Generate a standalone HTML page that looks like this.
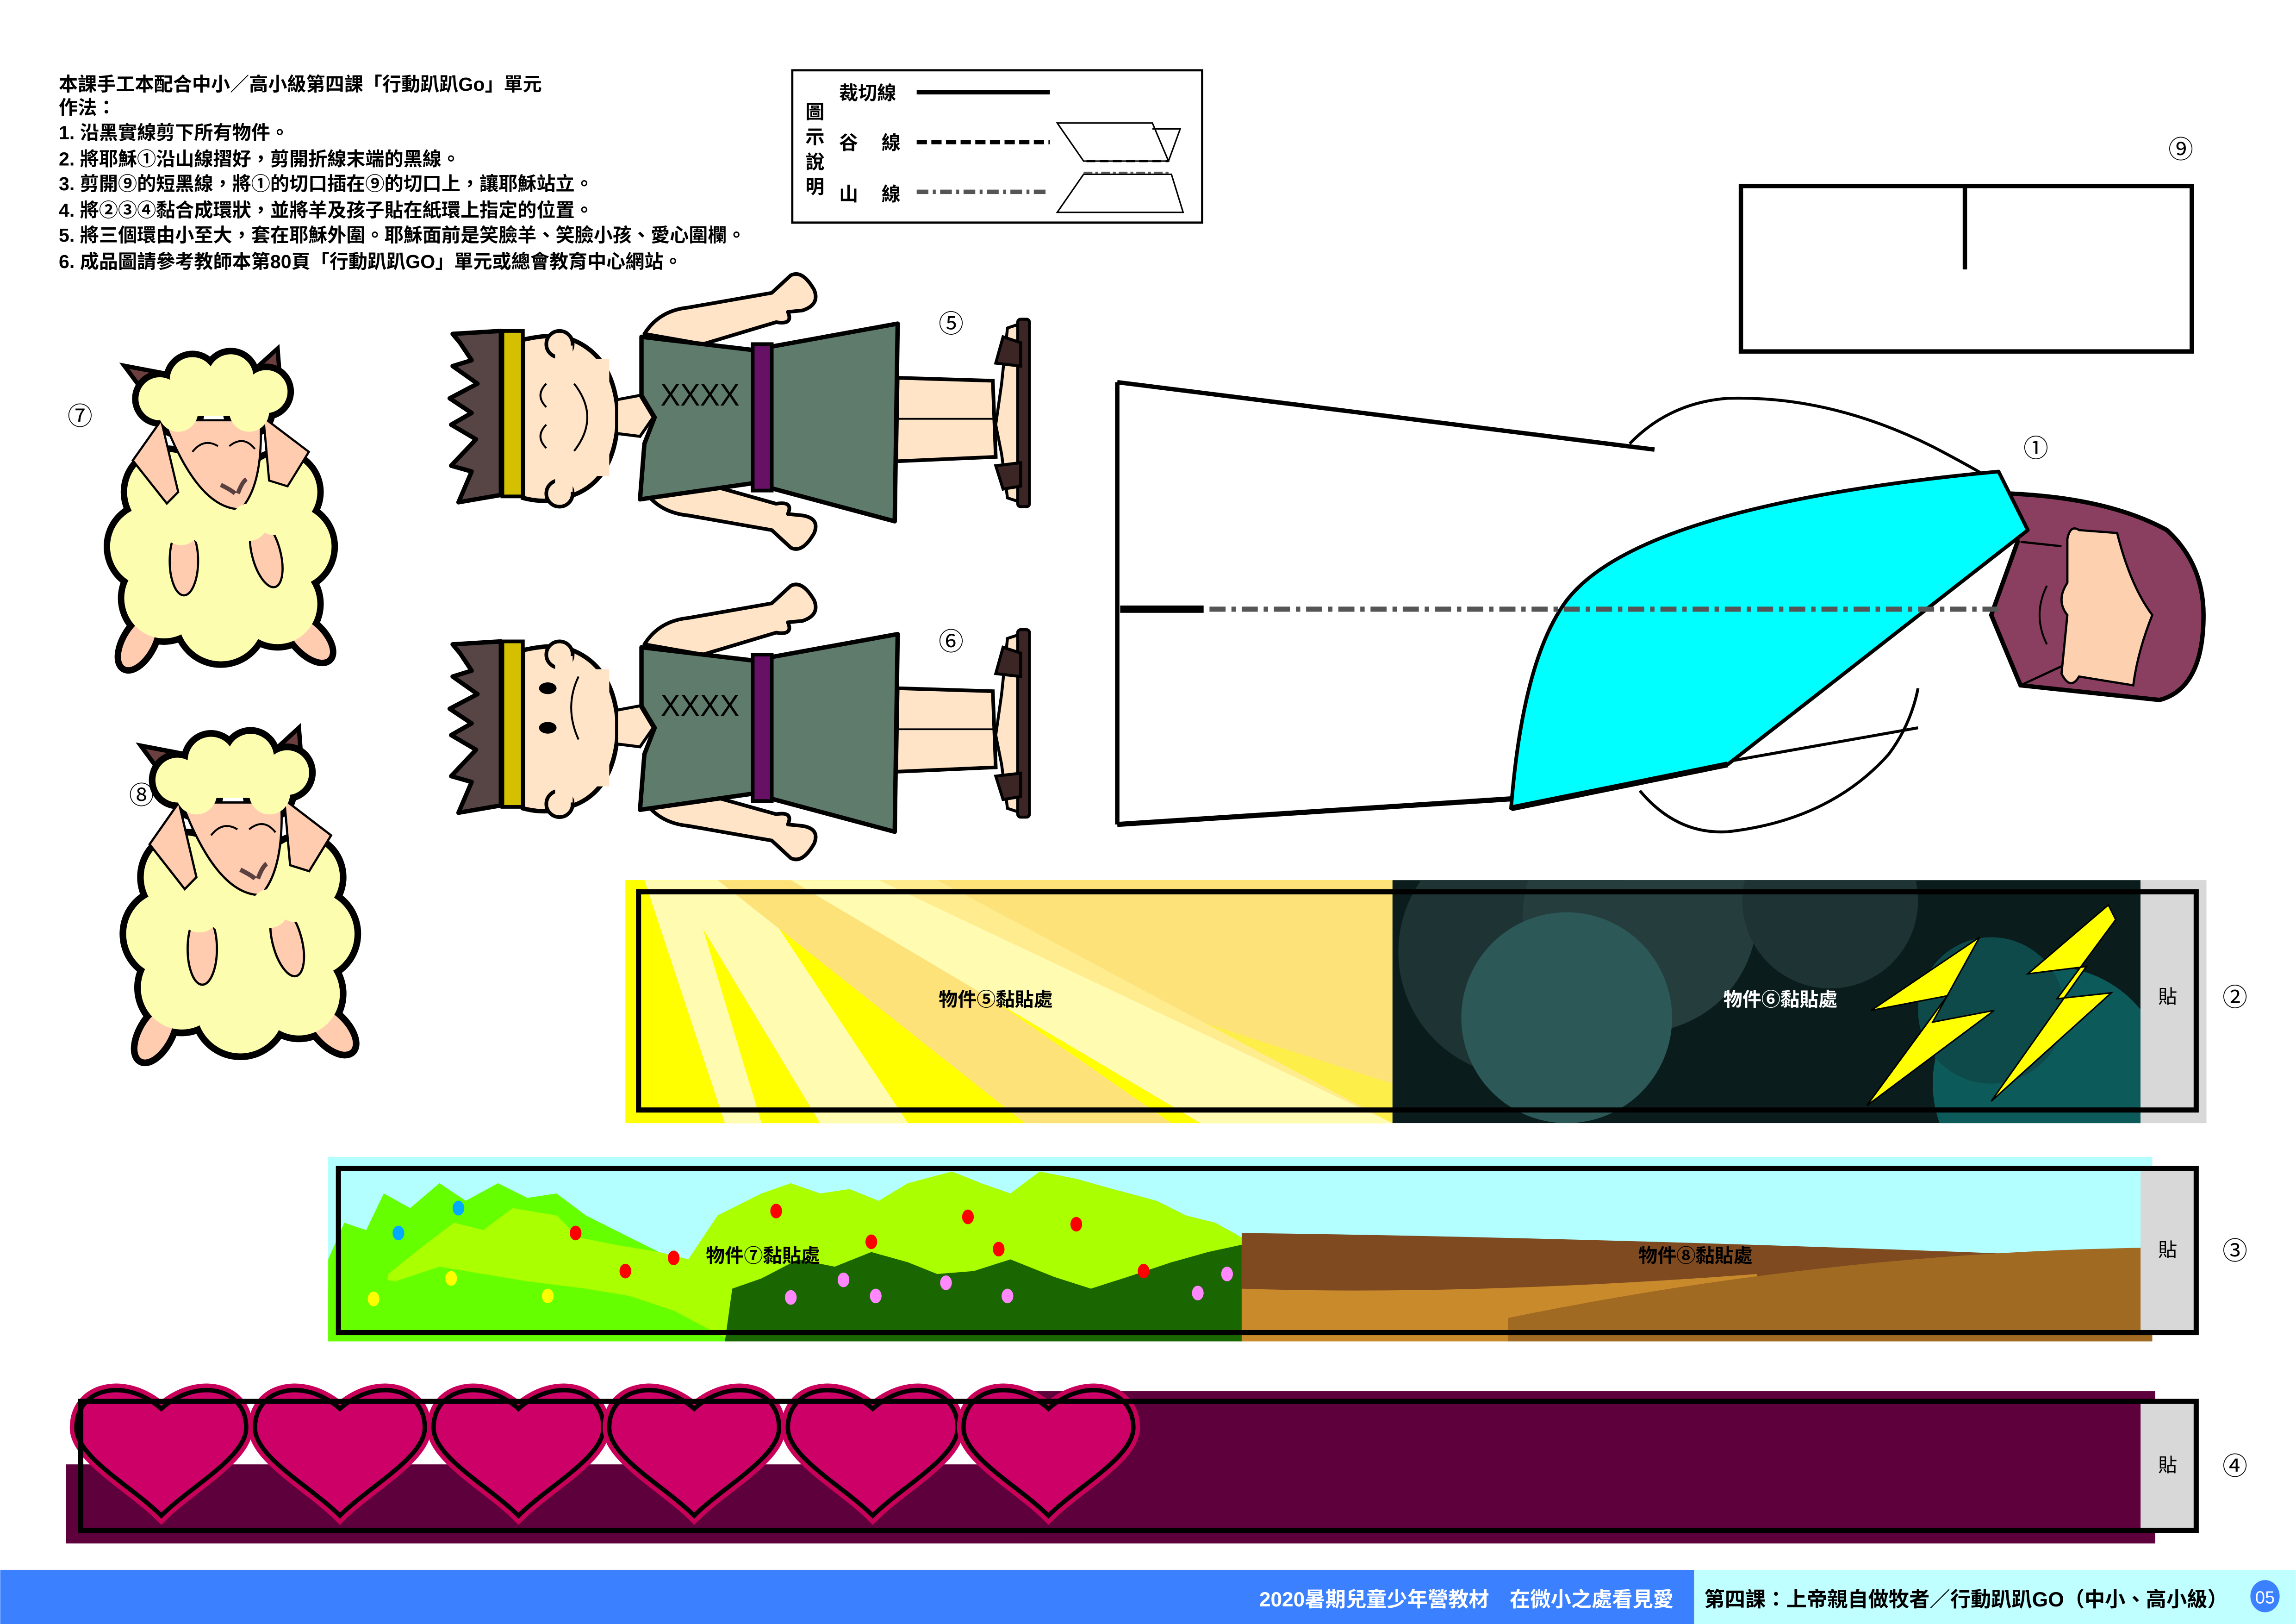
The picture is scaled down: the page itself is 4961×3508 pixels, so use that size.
<!DOCTYPE html>
<html><head><meta charset="utf-8"><style>
html,body{margin:0;padding:0;background:#fff;}
svg{display:block;}
text{font-family:"Liberation Sans","Noto Sans CJK TC",sans-serif;}
</style></head><body>
<svg width="4961" height="3508" viewBox="0 0 1568 1109" xmlns="http://www.w3.org/2000/svg">
<defs>
<clipPath id="c2"><rect x="427" y="601" width="1035" height="166"/></clipPath>
<clipPath id="c3"><rect x="224" y="790" width="1246" height="126"/></clipPath>
<g id="sheep">
  <path d="M22,28 L10,12 L42,18 L45,34 Z" fill="#6b3f3f" stroke="#000" stroke-width="3"/>
  <path d="M98,18 L118,0 L120,26 Z" fill="#6b3f3f" stroke="#000" stroke-width="3"/>
  <g stroke="#000" stroke-width="9" fill="#000">
    <circle cx="40" cy="100" r="28"/><circle cx="28" cy="138" r="28"/><circle cx="38" cy="174" r="28"/>
    <circle cx="78" cy="188" r="30"/><circle cx="118" cy="178" r="28"/><circle cx="128" cy="138" r="28"/>
    <circle cx="120" cy="100" r="26"/><circle cx="80" cy="130" r="45"/>
    <ellipse cx="20" cy="205" rx="9" ry="19" transform="rotate(30 20 205)"/>
    <ellipse cx="140" cy="202" rx="9" ry="19" transform="rotate(-45 140 202)"/>
    <circle cx="35" cy="35" r="15"/><circle cx="58" cy="22" r="16"/><circle cx="85" cy="20" r="16"/><circle cx="110" cy="30" r="15"/>
    <circle cx="48" cy="44" r="14"/><circle cx="98" cy="44" r="14"/>
  </g>
  <ellipse cx="20" cy="205" rx="9" ry="19" transform="rotate(30 20 205)" fill="#ffccb0"/>
  <ellipse cx="140" cy="202" rx="9" ry="19" transform="rotate(-45 140 202)" fill="#ffccb0"/>
  <g fill="#fdfdb0">
    <circle cx="40" cy="100" r="28"/><circle cx="28" cy="138" r="28"/><circle cx="38" cy="174" r="28"/>
    <circle cx="78" cy="188" r="30"/><circle cx="118" cy="178" r="28"/><circle cx="128" cy="138" r="28"/>
    <circle cx="120" cy="100" r="26"/><circle cx="80" cy="130" r="45"/>
  </g>
  <path d="M16,78 L36,50 L48,100 L40,108 Z" fill="#ffccb0" stroke="#000" stroke-width="1.5"/>
  <path d="M108,48 L140,72 L125,96 L112,92 Z" fill="#ffccb0" stroke="#000" stroke-width="1.5"/>
  <path d="M38,50 Q62,112 92,112 Q108,95 106,50 Z" fill="#ffccb0" stroke="#000" stroke-width="1.5"/>
  <g fill="#fdfdb0"><circle cx="35" cy="35" r="15"/><circle cx="58" cy="22" r="16"/><circle cx="85" cy="20" r="16"/><circle cx="110" cy="30" r="15"/><circle cx="48" cy="44" r="14"/><circle cx="98" cy="44" r="14"/><rect x="40" y="25" width="65" height="22"/></g>
  <ellipse cx="52" cy="148" rx="10" ry="24" fill="#ffccb0" stroke="#000" stroke-width="1.5"/>
  <ellipse cx="110" cy="143" rx="10" ry="24" fill="#ffccb0" stroke="#000" stroke-width="1.5" transform="rotate(-15 110 143)"/>
  <g fill="#fdfdb0"><circle cx="50" cy="123" r="14"/><circle cx="68" cy="125" r="12"/><circle cx="98" cy="121" r="13"/><circle cx="115" cy="118" r="12"/></g>
  <path d="M58,72 Q66,62 76,68 M84,68 Q94,60 102,70" stroke="#000" stroke-width="1.3" fill="none"/>
  <path d="M78,95 Q86,99 88,101 M90,101 Q93,93 96,91" stroke="#5a4040" stroke-width="3" fill="none"/>
</g>
<g id="boy">
  <path d="M440,228 Q450,212 470,210 L527,200 L540,188 Q548,184 556,198 Q560,208 548,212 L538,213 Q542,222 530,220 L480,235 Z" fill="#ffe4c8" stroke="#000" stroke-width="2.5" stroke-linejoin="round"/>
  <path d="M440,335 Q450,350 470,352 L527,362 L540,374 Q548,378 556,364 Q560,354 548,352 L538,351 Q542,342 530,344 L480,330 Z" fill="#ffe4c8" stroke="#000" stroke-width="2.5" stroke-linejoin="round"/>
  <path d="M309,228 L342,226 L342,338 L313,343 L322,322 L308,318 L325,300 L308,290 L322,282 L307,272 L326,262 L309,250 L322,246 L314,234 Z" fill="#574545" stroke="#000" stroke-width="3" stroke-linejoin="round"/>
  <path d="M357,232 Q375,228 385,230 Q420,240 422,285 Q420,332 385,340 Q372,344 357,340 Z" fill="#ffe4c8" stroke="#000" stroke-width="3"/>
  <circle cx="382" cy="235" r="9" fill="#ffe4c8" stroke="#000" stroke-width="2.5"/>
  <circle cx="382" cy="337" r="9" fill="#ffe4c8" stroke="#000" stroke-width="2.5"/>
  <rect x="379" y="236" width="12" height="10" fill="#ffe4c8"/><rect x="379" y="326" width="12" height="10" fill="#ffe4c8"/>
  <rect x="343" y="226" width="14" height="113" fill="#d4c000" stroke="#000" stroke-width="2.5"/>
  <path d="M421,273 L437,270 L446,285 L437,298 L421,296 Z" fill="#ffe4c8" stroke="#000" stroke-width="2"/>
  <path d="M438,230 L514,239 L613,221 L611,356 L514,330 L437,341 L440,303 L447,285 L438,270 Z" fill="#5f7b6b" stroke="#000" stroke-width="3" stroke-linejoin="round"/>
  <rect x="514" y="235" width="13" height="100" fill="#661166" stroke="#000" stroke-width="2.5"/>
  <text x="451" y="277" font-size="21" fill="#000" textLength="54" lengthAdjust="spacingAndGlyphs">XXXX</text>
  <path d="M613,258 L678,260 L680,312 L612,315 Z" fill="#ffe4c8" stroke="#000" stroke-width="2.5"/>
  <line x1="612" y1="286" x2="700" y2="286" stroke="#000" stroke-width="1.2"/>
  <path d="M688,224 L700,220 L700,344 L688,340 L684,310 L680,290 L684,262 Z" fill="#ffe4c8" stroke="#000" stroke-width="2"/>
  <rect x="695" y="218" width="8" height="128" rx="2" fill="#3c2525" stroke="#000" stroke-width="2"/>
  <path d="M685,230 L697,234 L697,250 L680,248 Z M680,318 L697,316 L697,332 L685,334 Z" fill="#3c2525" stroke="#000" stroke-width="2"/>
</g>
</defs>

<!-- header text -->
<g font-size="13" fill="#000" font-weight="bold">
<text x="40" y="62">本課手工本配合中小／高小級第四課「行動趴趴Go」單元</text>
<text x="40" y="78">作法：</text>
<text x="40" y="95">1. 沿黑實線剪下所有物件。</text>
<text x="40" y="113">2. 將耶穌①沿山線摺好，剪開折線末端的黑線。</text>
<text x="40" y="130">3. 剪開⑨的短黑線，將①的切口插在⑨的切口上，讓耶穌站立。</text>
<text x="40" y="148">4. 將②③④黏合成環狀，並將羊及孩子貼在紙環上指定的位置。</text>
<text x="40" y="165">5. 將三個環由小至大，套在耶穌外圍。耶穌面前是笑臉羊、笑臉小孩、愛心圍欄。</text>
<text x="40" y="183">6. 成品圖請參考教師本第80頁「行動趴趴GO」單元或總會教育中心網站。</text>
</g>

<!-- legend -->
<rect x="541" y="48" width="280" height="104" fill="none" stroke="#000" stroke-width="1.5"/>
<g font-size="13" fill="#000" font-weight="bold">
<text x="550" y="81">圖</text><text x="550" y="98">示</text><text x="550" y="115">說</text><text x="550" y="132">明</text>
<text x="573" y="68">裁切線</text>
<text x="573" y="102">谷</text><text x="602" y="102">線</text>
<text x="573" y="137">山</text><text x="602" y="137">線</text>
</g>
<line x1="626" y1="63" x2="717" y2="63" stroke="#000" stroke-width="3"/>
<line x1="626" y1="97" x2="717" y2="97" stroke="#000" stroke-width="3" stroke-dasharray="7,3"/>
<line x1="626" y1="131" x2="717" y2="131" stroke="#555" stroke-width="3" stroke-dasharray="8,3,2,3"/>
<path d="M722,84 L787,84 L798,110 L740,110 Z" fill="#fff" stroke="#000" stroke-width="1"/>
<path d="M787,88 L806,88 L798,110" fill="none" stroke="#000" stroke-width="1"/>
<line x1="742" y1="110" x2="798" y2="110" stroke="#000" stroke-width="1.5" stroke-dasharray="6,3"/>
<path d="M740,119 L800,119 L808,145 L722,145 Z" fill="#fff" stroke="#000" stroke-width="1"/>
<line x1="740" y1="118" x2="798" y2="118" stroke="#555" stroke-width="1.5" stroke-dasharray="6,2,2,2"/>

<!-- piece 9 -->
<text x="1481" y="108" font-size="17">⑨</text>
<rect x="1189" y="127" width="308" height="113" fill="none" stroke="#000" stroke-width="3"/>
<line x1="1342" y1="127" x2="1342" y2="184" stroke="#000" stroke-width="3"/>

<!-- Jesus piece 1 -->
<text x="1382" y="312" font-size="17">①</text>
<path d="M1113,303 Q1140,275 1180,272 Q1250,270 1320,305 Q1345,318 1365,330" fill="#fff" stroke="#000" stroke-width="2"/>
<path d="M1120,540 Q1145,570 1180,568 Q1250,560 1290,515 Q1305,495 1310,470" fill="#fff" stroke="#000" stroke-width="2"/>
<path d="M763,261 L1160,310 L1040,545 L763,563 Z" fill="#fff"/>
<line x1="763" y1="261" x2="1130" y2="307" stroke="#000" stroke-width="3"/>
<line x1="763" y1="563" x2="1040" y2="545" stroke="#000" stroke-width="3.5"/>
<line x1="763" y1="261" x2="763" y2="563" stroke="#000" stroke-width="3"/>
<line x1="1180" y1="520" x2="1310" y2="497" stroke="#000" stroke-width="2"/>
<path d="M1372,337 Q1440,340 1480,362 Q1505,385 1505,420 Q1505,470 1475,478 L1380,468 L1360,420 L1378,370 Z" fill="#8b3f60" stroke="#000" stroke-width="3"/>
<path d="M1412,368 Q1414,358 1420,362 L1446,364 Q1455,400 1470,420 Q1460,445 1457,468 L1420,462 Q1414,472 1408,460 L1412,420 Q1404,410 1412,398 Z" fill="#fdd0b0" stroke="#000" stroke-width="1.5"/>
<path d="M1380,468 L1408,455 M1380,370 L1408,373" stroke="#000" stroke-width="1.5"/>
<path d="M1398,400 Q1388,420 1398,440" stroke="#000" stroke-width="1.3" fill="none"/>
<path d="M1032,552 Q1040,450 1070,410 Q1120,345 1365,322 L1385,362 L1180,522 Z" fill="#00ffff" stroke="#000" stroke-width="2.5" stroke-linejoin="round"/>
<path d="M1032,552 L1180,522" stroke="#000" stroke-width="4"/>
<line x1="765" y1="416" x2="822" y2="416" stroke="#000" stroke-width="5"/>
<line x1="826" y1="416" x2="1365" y2="416" stroke="#555" stroke-width="3.5" stroke-dasharray="11,4,3,4"/>

<!-- boys -->
<use href="#boy"/>
<use href="#boy" transform="translate(0,212)"/>
<rect x="360" y="245" width="56" height="80" fill="#ffe4c8"/>
<path d="M373,262 Q365,270 373,278 M373,290 Q365,298 373,306 M392,262 Q410,285 392,308" stroke="#000" stroke-width="1.3" fill="none"/>
<rect x="360" y="457" width="56" height="80" fill="#ffe4c8"/>
<ellipse cx="374" cy="470" rx="6" ry="4" fill="#000"/><ellipse cx="374" cy="497" rx="6" ry="4" fill="#000"/>
<path d="M395,462 Q385,483 395,505" stroke="#000" stroke-width="1.3" fill="none"/>
<text x="641" y="227" font-size="17">⑤</text>
<text x="641" y="444" font-size="17">⑥</text>

<!-- sheep -->
<use href="#sheep" transform="translate(75,238) scale(0.97,0.98)"/>
<use href="#sheep" transform="translate(86,497) scale(1,1.02)"/>
<text x="46" y="290" font-size="17">⑦</text>
<text x="88" y="549" font-size="17">⑧</text>

<!-- strip 2 -->
<rect x="427" y="601" width="524" height="166" fill="#ffff00"/>
<g clip-path="url(#c2)">
  <polygon points="520,601 951,601 951,740" fill="#fde27a"/>
  <polygon points="440,601 470,601 520,767 495,767" fill="#fffbb0"/>
  <polygon points="460,601 510,601 620,767 560,767" fill="#fffbb0"/>
  <polygon points="490,601 560,601 800,767 700,767" fill="#fde27a"/>
  <polygon points="540,601 640,601 951,767 820,767" fill="#fffbb0"/>
  <polygon points="600,601 700,601 951,740 951,767" fill="#fde27a" opacity="0.6"/>
  <rect x="951" y="601" width="511" height="166" fill="#0a1c1c"/>
  <circle cx="1040" cy="650" r="85" fill="#1e3434"/>
  <circle cx="1120" cy="625" r="80" fill="#263d3d"/>
  <circle cx="1070" cy="695" r="72" fill="#2c5858"/>
  <circle cx="1250" cy="615" r="60" fill="#1e3434"/>
  <circle cx="1400" cy="740" r="80" fill="#0d5a5a"/>
  <circle cx="1360" cy="690" r="50" fill="#0f4a4a"/>
</g>
<polygon points="1352,640 1278,690 1330,680 1275,755 1362,690 1320,698" fill="#ffff00" stroke="#000" stroke-width="1"/>
<polygon points="1440,618 1385,665 1425,660 1360,752 1442,678 1405,682 1445,628" fill="#ffff00" stroke="#000" stroke-width="1"/>
<rect x="1462" y="601" width="45" height="166" fill="#d8d8d8"/>
<rect x="436" y="609" width="1064" height="149" fill="none" stroke="#000" stroke-width="3.5"/>
<text x="641" y="687" font-size="13" font-weight="bold">物件⑤黏貼處</text>
<text x="1177" y="687" font-size="13" fill="#fff" font-weight="bold">物件⑥黏貼處</text>
<text x="1474" y="685" font-size="13">貼</text>
<text x="1518" y="687" font-size="17">②</text>

<!-- strip 3 -->
<rect x="224" y="790" width="1246" height="126" fill="#b3ffff"/>
<g clip-path="url(#c3)">
  <path d="M224,916 L224,860 L235,835 L250,840 L262,815 L280,825 L300,808 L318,820 L340,808 L360,818 L380,815 L400,830 L420,840 L440,850 L460,860 L480,870 L500,916 Z" fill="#66ff00"/>
  <path d="M260,916 L265,870 L290,850 L310,835 L330,840 L350,825 L380,830 L395,845 L420,850 L450,855 L470,860 L490,830 L520,815 L540,808 L560,815 L580,812 L600,820 L620,808 L650,800 L670,808 L690,815 L710,800 L735,805 L760,812 L790,820 L810,830 L830,835 L848,845 L848,916 Z" fill="#aaff00"/>
  <path d="M224,916 L224,880 L240,870 L270,875 L300,865 L330,870 L360,875 L400,880 L430,885 L460,895 L500,916 Z" fill="#66ff00"/>
  <path d="M495,916 L500,880 L520,873 L545,860 L570,865 L595,855 L620,862 L640,870 L665,868 L690,860 L720,872 L745,880 L770,872 L800,862 L825,855 L848,850 L848,916 Z" fill="#1a6600"/>
  <path d="M848,842 Q1100,845 1470,860 L1470,916 L848,916 Z" fill="#7f4a20"/>
  <path d="M848,880 Q1000,885 1200,870 L1200,916 L848,916 Z" fill="#c98a2c"/>
  <path d="M1030,900 Q1250,855 1470,852 L1470,916 L1030,916 Z" fill="#a06a22"/>
</g>
<g>
  <ellipse cx="313" cy="825" rx="4" ry="5" fill="#00aaff"/><ellipse cx="272" cy="842" rx="4" ry="5" fill="#00aaff"/>
  <ellipse cx="308" cy="873" rx="4" ry="5" fill="#ffff00"/><ellipse cx="255" cy="887" rx="4" ry="5" fill="#ffff00"/><ellipse cx="374" cy="885" rx="4" ry="5" fill="#ffff00"/>
  <ellipse cx="393" cy="842" rx="4" ry="5" fill="#f00"/><ellipse cx="427" cy="868" rx="4" ry="5" fill="#f00"/><ellipse cx="460" cy="859" rx="4" ry="5" fill="#f00"/>
  <ellipse cx="530" cy="827" rx="4" ry="5" fill="#f00"/><ellipse cx="595" cy="848" rx="4" ry="5" fill="#f00"/><ellipse cx="661" cy="831" rx="4" ry="5" fill="#f00"/>
  <ellipse cx="735" cy="836" rx="4" ry="5" fill="#f00"/><ellipse cx="682" cy="853" rx="4" ry="5" fill="#f00"/><ellipse cx="781" cy="868" rx="4" ry="5" fill="#f00"/>
  <ellipse cx="540" cy="886" rx="4" ry="5" fill="#ff88ff"/><ellipse cx="576" cy="874" rx="4" ry="5" fill="#ff88ff"/><ellipse cx="598" cy="885" rx="4" ry="5" fill="#ff88ff"/>
  <ellipse cx="646" cy="876" rx="4" ry="5" fill="#ff88ff"/><ellipse cx="688" cy="885" rx="4" ry="5" fill="#ff88ff"/><ellipse cx="818" cy="883" rx="4" ry="5" fill="#ff88ff"/><ellipse cx="838" cy="870" rx="4" ry="5" fill="#ff88ff"/>
</g>
<rect x="1462" y="798" width="38" height="112" fill="#d8d8d8"/>
<rect x="231" y="798" width="1269" height="112" fill="none" stroke="#000" stroke-width="3.5"/>
<text x="482" y="862" font-size="13" font-weight="bold">物件⑦黏貼處</text>
<text x="1119" y="862" font-size="13" font-weight="bold">物件⑧黏貼處</text>
<text x="1474" y="858" font-size="13">貼</text>
<text x="1518" y="860" font-size="17">③</text>

<!-- strip 4 -->
<rect x="45" y="1000" width="1427" height="54" fill="#5e003c"/>
<rect x="700" y="950" width="772" height="104" fill="#5e003c"/>
<g fill="#cc0066" stroke="#000" stroke-width="3">
<g id="hearts">
<path d="M110,1035 C90,1015 52,995 52,975 C52,948 85,940 110,962 C135,940 168,948 168,975 C168,995 130,1015 110,1035 Z" stroke="#c8005a" stroke-width="9"/>
<path d="M110,1035 C90,1015 52,995 52,975 C52,948 85,940 110,962 C135,940 168,948 168,975 C168,995 130,1015 110,1035 Z"/>
</g>
<use href="#hearts" transform="translate(122,0)"/>
<use href="#hearts" transform="translate(244,0)"/>
<use href="#hearts" transform="translate(364,0)"/>
<use href="#hearts" transform="translate(486,0)"/>
<use href="#hearts" transform="translate(606,0)"/>
</g>
<rect x="1462" y="957" width="38" height="88" fill="#d8d8d8"/>
<rect x="55" y="957" width="1445" height="88" fill="none" stroke="#000" stroke-width="3.5"/>
<text x="1474" y="1005" font-size="13">貼</text>
<text x="1518" y="1007" font-size="17">④</text>

<!-- footer -->
<rect x="0" y="1072" width="1157" height="37" fill="#3a80ff"/>
<rect x="1157" y="1072" width="411" height="37" fill="#c0ffff"/>
<text x="1143" y="1097" font-size="14" fill="#fff" text-anchor="end" font-weight="bold">2020暑期兒童少年營教材　在微小之處看見愛</text>
<text x="1164" y="1097" font-size="14" fill="#000" font-weight="bold">第四課：上帝親自做牧者／行動趴趴GO（中小、高小級）</text>
<ellipse cx="1547" cy="1090" rx="10" ry="11" fill="#3a80ff"/>
<text x="1547" y="1095" font-size="12" fill="#fff" text-anchor="middle">05</text>
</svg>
</body></html>
